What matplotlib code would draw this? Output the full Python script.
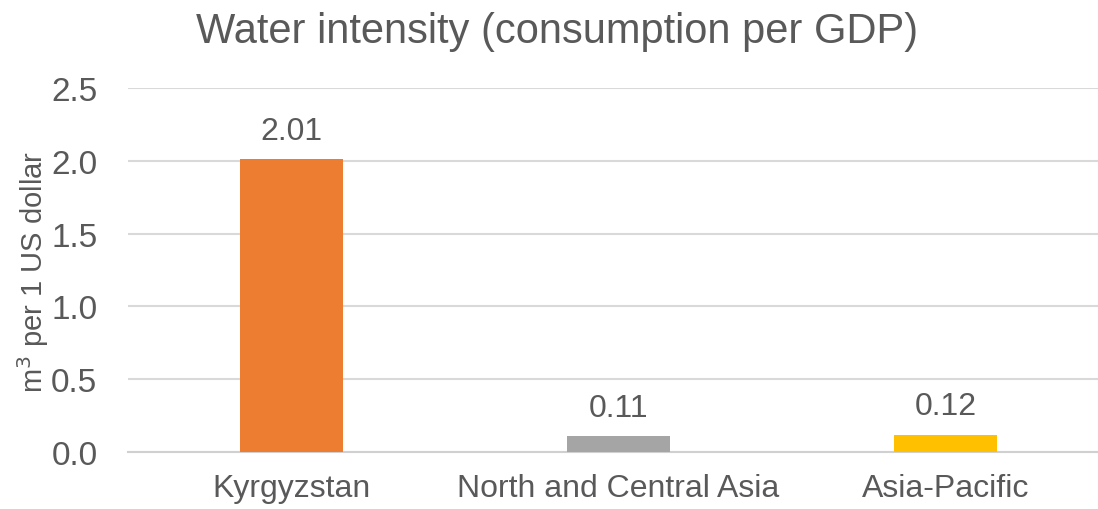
import matplotlib.pyplot as plt
from matplotlib import font_manager

regions = ["Kyrgyzstan", "North and Central Asia", "Asia-Pacific"]
intensity = [2.01, 0.11, 0.12]
bar_colors = ["#ED7D31", "#A5A5A5", "#FFC000"]
y_ticks = [0.0, 0.5, 1.0, 1.5, 2.0, 2.5]

names = {f.name for f in font_manager.fontManager.ttflist}
family = "Liberation Sans Narrow" if "Liberation Sans Narrow" in names else "Liberation Sans"
plt.rcParams["font.family"] = [family, "DejaVu Sans"]

text_color = "#595959"

fig = plt.figure(figsize=(10.98, 5.10), dpi=100)
axes = fig.add_axes([128 / 1098, 57 / 510, 981 / 1098, 364 / 510])

pos = list(range(len(regions)))
bars = axes.bar(pos, intensity, width=0.315, color=bar_colors, zorder=3)
for b, v in zip(bars, intensity):
    axes.text(b.get_x() + b.get_width() / 2, v + 0.09, "%.2f" % v,
              ha="center", va="bottom", fontsize=23, color=text_color)

axes.set_xlim(-0.5, 2.5)
axes.set_ylim(0, 2.5)
axes.set_yticks(y_ticks)
axes.set_yticklabels(["%.1f" % t for t in y_ticks])
axes.set_xticks(pos)
axes.set_xticklabels(regions)
axes.tick_params(axis="y", length=0, pad=22, labelsize=24, labelcolor=text_color)
axes.tick_params(axis="x", length=0, pad=15, labelsize=23, labelcolor=text_color)
axes.grid(axis="y", color="#D9D9D9", linewidth=1.5, zorder=0)
for s in ["top", "right", "left"]:
    axes.spines[s].set_visible(False)
axes.spines["bottom"].set_color("#D0D0D0")
axes.spines["bottom"].set_linewidth(1.5)

fig.text(33 / 1098, 1 - 272 / 510, "m$^3$ per 1 US dollar", rotation=90,
         ha="center", va="center", fontsize=21, color=text_color)
fig.text(557 / 1098, 1 - 32 / 510, "Water intensity (consumption per GDP)",
         ha="center", va="center", fontsize=30, color=text_color)

fig.savefig("out.png", dpi=100)
